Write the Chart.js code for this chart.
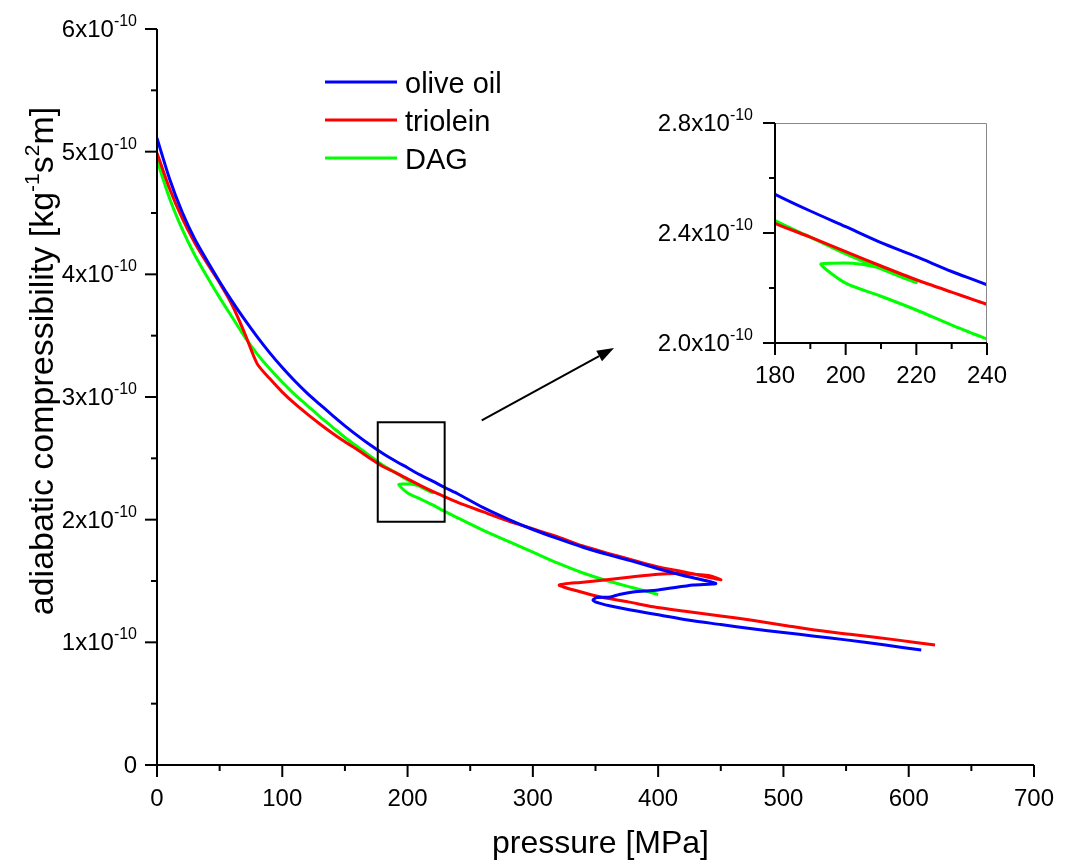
<!DOCTYPE html>
<html><head><meta charset="utf-8">
<script src="https://cdn.jsdelivr.net/npm/chart.js@4.4.1/dist/chart.umd.min.js"></script>
<style>
html,body{margin:0;padding:0;background:#fff;overflow:hidden}
#wrap{position:relative;width:1073px;height:863px}
#main{position:absolute;left:0;top:0}
#inset{position:absolute;left:640px;top:100px}
</style></head>
<body><div id="wrap"><canvas id="main" width="1073" height="863"></canvas><canvas id="inset" width="380" height="300"></canvas></div>
<script>
// ---- data (pressure in MPa, adiabatic compressibility in units of 1e-10 kg^-1 s^2 m) ----
const UNIT = 1e-10;
const oliveP = [0,10,20,30,40,50,60,70,80,90,100,110,120,130,140,150,160,170,180,190,200,210,220,230,240,260,280,300,320,340,360,380,400,420,446,
  428,400,380,369,362,351,348,353,365,383,400,425,450,475,500,525,550,580,610];
const oliveK = [5.11,4.78,4.51,4.29,4.11,3.94,3.78,3.63,3.49,3.36,3.24,3.13,3.03,2.94,2.85,2.765,2.685,2.61,2.541,2.48,2.423,2.365,2.314,2.26,2.211,2.10,2.005,1.92,1.845,1.775,1.715,1.66,1.60,1.545,1.48,
  1.467,1.427,1.41,1.39,1.37,1.365,1.345,1.32,1.29,1.255,1.225,1.18,1.145,1.11,1.08,1.05,1.02,0.98,0.937];
const trioleinP = [0,10,20,30,40,50,60,70,80,90,100,110,120,130,140,150,160,170,180,190,200,210,220,230,240,260,280,300,320,340,360,380,400,420,450,
  440,420,400,380,359,340,321,335,356,376,396,420,450,475,500,525,553,590,621];
const trioleinK = [4.99,4.70,4.46,4.26,4.09,3.93,3.75,3.52,3.27,3.15,3.04,2.945,2.86,2.78,2.705,2.635,2.57,2.50,2.435,2.385,2.332,2.28,2.23,2.185,2.141,2.065,1.99,1.925,1.86,1.785,1.725,1.67,1.615,1.575,1.51,
  1.545,1.56,1.556,1.535,1.51,1.49,1.467,1.42,1.365,1.33,1.29,1.255,1.215,1.18,1.14,1.10,1.065,1.02,0.978];
const dagP = [0,10,20,30,40,50,60,70,80,90,100,110,120,130,140,150,160,170,180,190,200,210,220,
  213.5,208,202,196.5,193,200,210,220,230,240,260,280,300,320,340,360,380,400];
const dagK = [4.93,4.62,4.37,4.16,3.98,3.81,3.65,3.49,3.35,3.23,3.12,3.02,2.93,2.84,2.755,2.67,2.595,2.52,2.445,2.385,2.324,2.27,2.22,
  2.256,2.278,2.29,2.29,2.286,2.2175,2.17,2.12,2.065,2.0145,1.915,1.825,1.735,1.645,1.565,1.50,1.445,1.39];
const seriesNames = ['olive oil','triolein','DAG'];
const seriesColors = ['#0000ff','#ff0000','#00ff00'];

// ---- axes ----
const mainXMajor = [0,100,200,300,400,500,600,700];
const mainXMinor = [50,150,250,350,450,550,650];
const mainYMajor = [0,1,2,3,4,5,6];
const mainYMinor = [0.5,1.5,2.5,3.5,4.5,5.5];
const insetXMajor = [180,200,220,240];
const insetXMinor = [190,210,230];
const insetYMajor = [2.0,2.4,2.8];
const insetYMinor = [2.2,2.6];
const zoomBox = {x0:176.2, x1:229.6, y0:1.983, y1:2.794};
const arrowFrom = {x:259.2, y:2.81}, arrowTo = {x:364.8, y:3.40};

const FONT = '"Liberation Sans", Arial, Helvetica, sans-serif';

function pts(P,K){ return P.map((p,i)=>({x:p, y:K[i]*UNIT})); }
function makeDatasets(){
  const P=[oliveP,trioleinP,dagP], K=[oliveK,trioleinK,dagK];
  return seriesNames.map((n,i)=>({label:n, data:pts(P[i],K[i]), borderColor:seriesColors[i], backgroundColor:seriesColors[i],
    borderWidth:3, pointRadius:0, tension:0.25, fill:false}));
}

function drawParts(ctx, parts, x, y, align, fb, fs, raise){
  let w=0;
  parts.forEach(p=>{ ctx.font=(p.sup?fs:fb)+'px '+FONT; p.w=ctx.measureText(p.t).width; w+=p.w; });
  let cx = align==='right'? x-w : align==='center'? x-w/2 : x;
  ctx.textAlign='left'; ctx.textBaseline='alphabetic';
  parts.forEach(p=>{ ctx.font=(p.sup?fs:fb)+'px '+FONT; ctx.fillText(p.t, cx, p.sup? y-raise : y); cx+=p.w; });
}

const decor = {
  id:'decor',
  afterDraw(chart, args, o){
    const ctx=chart.ctx, xs=chart.scales.x, ys=chart.scales.y, a=chart.chartArea;
    ctx.save();
    ctx.fillStyle='#000'; ctx.strokeStyle='#000';
    if (o.frame){
      ctx.strokeStyle=o.frame; ctx.lineWidth=1;
      ctx.beginPath(); ctx.moveTo(a.left, a.top+0.5); ctx.lineTo(a.right-0.5, a.top+0.5); ctx.lineTo(a.right-0.5, a.bottom); ctx.stroke();
      ctx.strokeStyle='#000';
    }
    ctx.lineWidth=2;
    ctx.beginPath(); ctx.moveTo(a.left, a.top); ctx.lineTo(a.left, a.bottom); ctx.lineTo(a.right, a.bottom); ctx.stroke();
    const tick=(v,len,isX)=>{
      ctx.beginPath();
      if(isX){ const p=xs.getPixelForValue(v); ctx.moveTo(p,a.bottom); ctx.lineTo(p,a.bottom+len); }
      else { const p=ys.getPixelForValue(v*UNIT); ctx.moveTo(a.left,p); ctx.lineTo(a.left-len,p); }
      ctx.stroke();
    };
    o.xMajor.forEach(v=>tick(v,12,true)); o.xMinor.forEach(v=>tick(v,6,true));
    o.yMajor.forEach(v=>tick(v,12,false)); o.yMinor.forEach(v=>tick(v,6,false));
    ctx.font=o.tickFont+'px '+FONT; ctx.textAlign='center'; ctx.textBaseline='alphabetic';
    o.xMajor.forEach(v=>ctx.fillText(String(v), xs.getPixelForValue(v), a.bottom+o.xLabelOff));
    o.yMajor.forEach(v=>{
      const p=ys.getPixelForValue(v*UNIT);
      const parts = v===0? [{t:'0'}] : [{t:(o.yDecimals? v.toFixed(o.yDecimals): String(v))+'x10'},{t:'-10',sup:true}];
      drawParts(ctx, parts, a.left-o.yLabelGap, p+8, 'right', o.tickFont, o.supFont, 11);
    });
    if (o.titles){
      ctx.font='32px '+FONT; ctx.textAlign='center';
      ctx.fillText('pressure [MPa]', (a.left+a.right)/2+5, 853);
      ctx.save(); ctx.translate(53, 361); ctx.rotate(-Math.PI/2);
      drawParts(ctx, [{t:'adiabatic compressibility [kg'},{t:'-1',sup:true},{t:'s'},{t:'2',sup:true},{t:'m]'}], 0, 0, 'center', 34, 21, 14);
      ctx.restore();
    }
    if (o.legend){
      chart.data.datasets.forEach((d,i)=>{
        const y=82+i*38;
        ctx.strokeStyle=d.borderColor; ctx.lineWidth=3;
        ctx.beginPath(); ctx.moveTo(325,y); ctx.lineTo(397,y); ctx.stroke();
        ctx.fillStyle='#000'; ctx.font='29px '+FONT; ctx.textAlign='left';
        ctx.fillText(d.label, 405, y+11);
      });
    }
    if (o.annot){
      ctx.strokeStyle='#000'; ctx.fillStyle='#000'; ctx.lineWidth=2;
      const bx0=xs.getPixelForValue(zoomBox.x0), bx1=xs.getPixelForValue(zoomBox.x1);
      const by0=ys.getPixelForValue(zoomBox.y0*UNIT), by1=ys.getPixelForValue(zoomBox.y1*UNIT);
      ctx.strokeRect(bx0, by1, bx1-bx0, by0-by1);
      const x0=xs.getPixelForValue(arrowFrom.x), y0=ys.getPixelForValue(arrowFrom.y*UNIT);
      const x1=xs.getPixelForValue(arrowTo.x), y1=ys.getPixelForValue(arrowTo.y*UNIT);
      const ang=Math.atan2(y1-y0,x1-x0), L=17, W=6;
      const bx=x1-L*Math.cos(ang), byy=y1-L*Math.sin(ang);
      ctx.beginPath(); ctx.moveTo(x0,y0); ctx.lineTo(bx,byy); ctx.stroke();
      ctx.beginPath(); ctx.moveTo(x1,y1);
      ctx.lineTo(bx+W*Math.sin(ang), byy-W*Math.cos(ang));
      ctx.lineTo(bx-W*Math.sin(ang), byy+W*Math.cos(ang)); ctx.closePath(); ctx.fill();
    }
    ctx.restore();
  }
};

function scaleOpts(min,max,fit){
  return {type:'linear', min, max, grid:{display:false}, border:{display:false}, ticks:{display:false}, title:{display:false}, afterFit:fit};
}

new Chart(document.getElementById('main'), {
  type:'line',
  data:{datasets:makeDatasets()},
  options:{
    responsive:false, animation:false, devicePixelRatio:1,
    layout:{padding:{top:29,right:39,left:0,bottom:0}},
    plugins:{legend:{display:false}, tooltip:{enabled:false},
      decor:{xMajor:mainXMajor,xMinor:mainXMinor,yMajor:mainYMajor,yMinor:mainYMinor,tickFont:24,supFont:16,xLabelOff:41,yLabelGap:20,yDecimals:0,titles:true,legend:true,annot:true}},
    scales:{
      x:scaleOpts(0,700,s=>{s.height=98;}),
      y:scaleOpts(0,6*UNIT,s=>{s.width=157;})
    }
  },
  plugins:[decor]
});

new Chart(document.getElementById('inset'), {
  type:'line',
  data:{datasets:makeDatasets().map(d=>Object.assign(d,{clip:0}))},
  options:{
    responsive:false, animation:false, devicePixelRatio:1,
    layout:{padding:{top:23,right:33,left:0,bottom:0}},
    plugins:{legend:{display:false}, tooltip:{enabled:false},
      decor:{xMajor:insetXMajor,xMinor:insetXMinor,yMajor:insetYMajor,yMinor:insetYMinor,tickFont:24,supFont:16,xLabelOff:40,yLabelGap:22,yDecimals:1,frame:'#888'}},
    scales:{
      x:scaleOpts(180,240,s=>{s.height=57;}),
      y:scaleOpts(2.0*UNIT,2.8*UNIT,s=>{s.width=135;})
    }
  },
  plugins:[decor]
});
</script></body></html>
